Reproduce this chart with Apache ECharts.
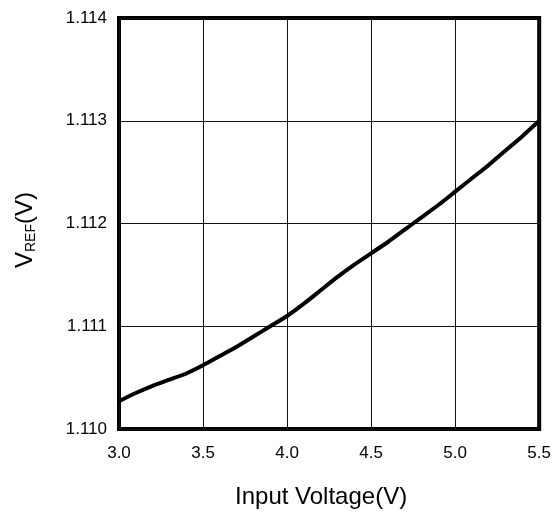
<!DOCTYPE html>
<html>
<head>
<meta charset="utf-8">
<script src="https://cdn.jsdelivr.net/npm/echarts@6/dist/echarts.min.js"></script>
<style>
html,body{margin:0;padding:0;background:#fff;}
#c{width:554px;height:517px;}
</style>
</head>
<body>
<div id="c"></div>
<script>
var inputVoltage = [3.0,3.1,3.2,3.3,3.4,3.5,3.6,3.7,3.8,3.9,4.0,4.1,4.2,4.3,4.4,4.5,4.6,4.7,4.8,4.9,5.0,5.1,5.2,5.3,5.4,5.5];
var vref = [1.11027,1.11035,1.11042,1.11048,1.11054,1.11062,1.11071,1.11080,1.11090,1.11100,1.11110,1.11122,1.11135,1.11148,1.11160,1.11171,1.11182,1.11194,1.11206,1.11218,1.11231,1.11244,1.11257,1.11271,1.11285,1.11300];
var xTickLabels = ['3.0','3.5','4.0','4.5','5.0','5.5'];
var yTickLabels = ['1.110','1.111','1.112','1.113','1.114'];

var tickFont = "'Liberation Sans', Arial, sans-serif";
var titleFont = "'Liberation Sans', Arial, sans-serif";

var seriesData = inputVoltage.map(function(x, i){ return [x, vref[i]]; });

var chart = echarts.init(document.getElementById('c'), null, {renderer:'canvas'});
chart.setOption({
  animation: false,
  backgroundColor: '#fff',
  grid: {
    left: 119, right: 13, top: 18, bottom: 88,
    show: true, borderWidth: 4, borderColor: '#000', backgroundColor: 'transparent'
  },
  xAxis: {
    type: 'value', min: 3.0, max: 5.5, interval: 0.5,
    axisLine: {show: false},
    axisTick: {show: false},
    splitLine: {show: true, lineStyle: {color: '#111', width: 1}},
    axisLabel: {
      margin: 16, color: '#000', fontSize: 17, fontFamily: tickFont,
      formatter: function(v){ var i = Math.round((v - 3.0) / 0.5); return xTickLabels[i]; }
    },
    name: 'Input Voltage(V)', nameLocation: 'middle', nameGap: 56,
    nameTextStyle: {color: '#000', fontSize: 24, fontFamily: titleFont, padding: [0, 16, 0, 0]}
  },
  yAxis: {
    type: 'value', min: 1.110, max: 1.114, interval: 0.001,
    axisLine: {show: false},
    axisTick: {show: false},
    splitLine: {show: true, lineStyle: {color: '#111', width: 1}},
    axisLabel: {
      margin: 12, color: '#000', fontSize: 17, fontFamily: tickFont,
      formatter: function(v){ var i = Math.round((v - 1.110) / 0.001); return yTickLabels[i]; }
    },
    name: '{v|V}{s|REF}{v|(V)}', nameLocation: 'middle', nameGap: 82, nameRotate: 90,
    nameTextStyle: {
      color: '#000', fontFamily: titleFont, fontSize: 24, padding: [0, 13, 0, 0],
      rich: {
        v: {fontSize: 24, fontFamily: titleFont, color: '#000', verticalAlign: 'bottom', lineHeight: 28},
        s: {fontSize: 14, fontFamily: titleFont, color: '#000', verticalAlign: 'bottom', lineHeight: 28, padding: [0,0,-1,0]}
      }
    }
  },
  series: [{
    type: 'line',
    data: seriesData,
    showSymbol: false,
    smooth: 0.2,
    lineStyle: {color: '#000', width: 4},
    clip: false,
    z: 5
  }]
});
</script>
</body>
</html>
